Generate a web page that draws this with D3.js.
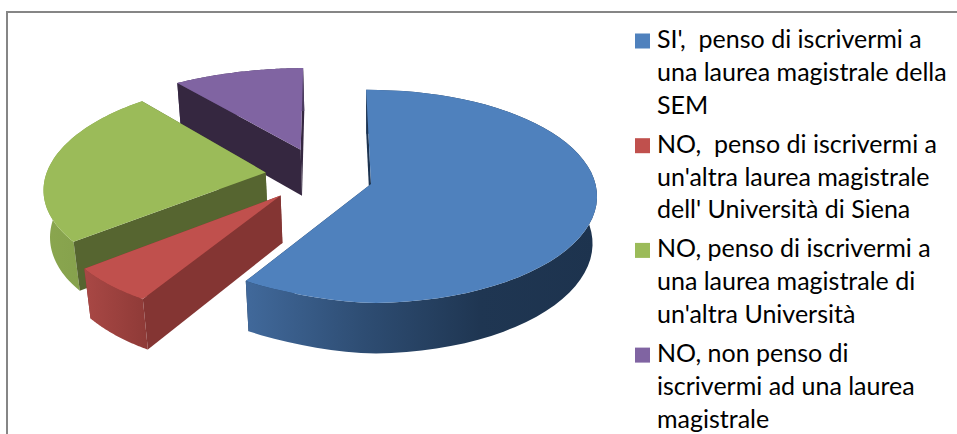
<!DOCTYPE html>
<html>
<head>
<meta charset="utf-8">
<script src="https://cdn.jsdelivr.net/npm/d3@7"></script>
<style>
html,body{margin:0;padding:0;background:#fff;}
svg{display:block;}
</style>
</head>
<body>
<svg id="chart" width="957" height="434"></svg>
<script>
// percentages
var categories = [
	["SI',  penso di iscrivermi a","una laurea magistrale della","SEM"],
	["NO,  penso di iscrivermi a","un'altra laurea magistrale","dell' Università di Siena"],
	["NO, penso di iscrivermi a","una laurea magistrale di","un'altra Università"],
	["NO, non penso di","iscrivermi ad una laurea","magistrale"]
];
var values = [58.9, 5.7, 24.4, 11.0];
var explode = [0.24, 0.26, 0.25, 0.27];
var topColors = ["#4f81bd","#c0504d","#9bbb59","#8064a2"];
var startFaceColors = ["#1c3350","#843533","#566530","#352740"];
var rimStops = [
	["#41699b","#2e4d73","#1f3652","#1d334e"],
	["#a94845","#8e3a37"],
	["#8aa64f","#7f9a48"],
	["#4c3c61","#4c3c61"]
];

var svg = d3.select("#chart");
var startAngle = -1.4*Math.PI/180;

// plane of the pie -> screen, with a bit of perspective
// left half is a little narrower and tilted up, far edge flattened, like the original
var cx = 371, cy = 184, persp = 0.117, sink = 0.02, depth = 48;
var xScale = d3.scaleLinear().domain([-1,0,1]).range([-221,0,224.5]);
var yScale = d3.scaleLinear().domain([-1.4,-1,1]).range([-138,-105,105]);
var tilt = d3.scaleLinear().domain([-0.35,0]).range([-3,0]).clamp(true);
function project(u,v,h){
	var w = 1 - persp*v + sink*h;
	return [cx + xScale(u)/w, cy + (yScale(v) + tilt(u) + depth*h)/w];
}
function onPlane(a,apex,h){
	return project(apex[0]+Math.sin(a), apex[1]-Math.cos(a), h);
}

var pie = d3.pie().sort(null).startAngle(startAngle).endAngle(startAngle+2*Math.PI);
var slices = pie(values);
var line = d3.line();

// true centre of the pie, the blue slice apex stays on cx,cy
var mid0 = (slices[0].startAngle+slices[0].endAngle)/2;
var origin = [-explode[0]*Math.sin(mid0), explode[0]*Math.cos(mid0)];

var defs = svg.append("defs");
rimStops.forEach(function(stops,i){
	var g = defs.append("linearGradient").attr("id","rim"+i);
	stops.forEach(function(c,j){
		g.append("stop").attr("offset",j/(stops.length-1)).attr("stop-color",c);
	});
});

// frame, only top and left are in the picture
svg.append("path").attr("d","M7,434V12H957").attr("fill","none")
	.attr("stroke","#868686").attr("stroke-width",2);

// back to front
var order = [3,2,1,0];
order.forEach(function(i){
	var d = slices[i];
	var mid = (d.startAngle+d.endAngle)/2;
	var apex = [origin[0]+explode[i]*Math.sin(mid), origin[1]-explode[i]*Math.cos(mid)];
	var arcAngles = d3.range(0,61).map(function(k){ return d.startAngle+(d.endAngle-d.startAngle)*k/60; });
	var g = svg.append("g").attr("class","slice");
	var topRim = arcAngles.map(function(a){ return onPlane(a,apex,0); });
	var botRim = arcAngles.map(function(a){ return onPlane(a,apex,1); });
	var ap0 = project(apex[0],apex[1],0), ap1 = project(apex[0],apex[1],1);

	g.append("path").attr("d",line([ap0,topRim[60],botRim[60],ap1])+"Z").attr("fill",startFaceColors[i]);
	g.append("path").attr("d",line(topRim.concat(botRim.slice().reverse()))+"Z").attr("fill","url(#rim"+i+")");
	g.append("path").attr("d",line([ap0,topRim[0],botRim[0],ap1])+"Z").attr("fill",startFaceColors[i]);
	g.append("path").attr("d",line([ap0].concat(topRim))+"Z").attr("fill",topColors[i]);
});

// legend
var legend = svg.append("g").attr("class","legend");
categories.forEach(function(lines,i){
	var y0 = 48 + i*104.7;
	legend.append("rect").attr("x",635).attr("y",y0-14.5).attr("width",15).attr("height",15).attr("fill",topColors[i]);
	lines.forEach(function(t,j){
		legend.append("text").attr("x",657).attr("y",y0+j*32.8)
			.style("white-space","pre")
			.attr("font-family","Lato, 'Open Sans', sans-serif").attr("font-size",25)
			.attr("fill","#000").text(t);
	});
});
</script>
</body>
</html>
